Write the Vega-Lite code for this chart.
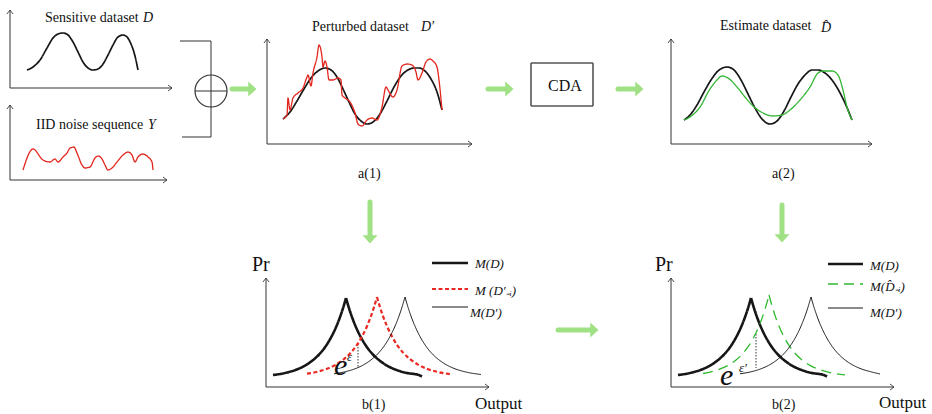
{
"$schema": "https://vega.github.io/schema/vega-lite/v6.json",
"width": 932, "height": 414,
"autosize": {"type": "fit", "contains": "padding"},
"padding": 0,
"background": "white",
"config": {"view": {"stroke": null}},
"datasets": {
"segs": [
{"g":"axis","x":10,"y":88,"x2":10,"y2":10},{"g":"axis","x":10,"y":88,"x2":172,"y2":88},
{"g":"axis","x":7,"y":14,"x2":10,"y2":10},{"g":"axis","x":13,"y":14,"x2":10,"y2":10},
{"g":"axis","x":168,"y":85,"x2":172,"y2":88},{"g":"axis","x":168,"y":91,"x2":172,"y2":88},
{"g":"axis","x":10,"y":180,"x2":10,"y2":105},{"g":"axis","x":10,"y":180,"x2":167,"y2":180},
{"g":"axis","x":7,"y":109,"x2":10,"y2":105},{"g":"axis","x":13,"y":109,"x2":10,"y2":105},
{"g":"axis","x":163,"y":177,"x2":167,"y2":180},{"g":"axis","x":163,"y":183,"x2":167,"y2":180},
{"g":"axis","x":180,"y":41,"x2":211,"y2":41},{"g":"axis","x":211,"y":41,"x2":211,"y2":137},
{"g":"axis","x":182,"y":137,"x2":211,"y2":137},{"g":"axis","x":195,"y":91,"x2":227,"y2":91},
{"g":"axis","x":267,"y":144,"x2":267,"y2":39},{"g":"axis","x":267,"y":144,"x2":472,"y2":144},
{"g":"axis","x":264,"y":43,"x2":267,"y2":39},{"g":"axis","x":270,"y":43,"x2":267,"y2":39},
{"g":"axis","x":468,"y":141,"x2":472,"y2":144},{"g":"axis","x":468,"y":147,"x2":472,"y2":144},
{"g":"axis","x":671,"y":144,"x2":671,"y2":39},{"g":"axis","x":671,"y":144,"x2":872,"y2":144},
{"g":"axis","x":668,"y":43,"x2":671,"y2":39},{"g":"axis","x":674,"y":43,"x2":671,"y2":39},
{"g":"axis","x":868,"y":141,"x2":872,"y2":144},{"g":"axis","x":868,"y":147,"x2":872,"y2":144},
{"g":"axis","x":266,"y":387,"x2":266,"y2":278},{"g":"axis","x":266,"y":387,"x2":489,"y2":387},
{"g":"axis","x":263,"y":282,"x2":266,"y2":278},{"g":"axis","x":269,"y":282,"x2":266,"y2":278},
{"g":"axis","x":485,"y":384,"x2":489,"y2":387},{"g":"axis","x":485,"y":390,"x2":489,"y2":387},
{"g":"axis","x":671,"y":387,"x2":671,"y2":278},{"g":"axis","x":671,"y":387,"x2":894,"y2":387},
{"g":"axis","x":668,"y":282,"x2":671,"y2":278},{"g":"axis","x":674,"y":282,"x2":671,"y2":278},
{"g":"axis","x":890,"y":384,"x2":894,"y2":387},{"g":"axis","x":890,"y":390,"x2":894,"y2":387},
{"g":"box","x":531,"y":63,"x2":593,"y2":63},{"g":"box","x":593,"y":63,"x2":593,"y2":106},
{"g":"box","x":593,"y":106,"x2":531,"y2":106},{"g":"box","x":531,"y":106,"x2":531,"y2":63},
{"g":"bold","x":432,"y":263,"x2":468,"y2":263},{"g":"reddash","x":432,"y":289,"x2":468,"y2":289},
{"g":"thin","x":432,"y":307,"x2":468,"y2":307},
{"g":"bold","x":828,"y":264,"x2":863,"y2":264},{"g":"greendash","x":828,"y":284,"x2":863,"y2":284},
{"g":"thin","x":828,"y":308,"x2":863,"y2":308},
{"g":"dot","x":358,"y":344,"x2":358,"y2":367},{"g":"dot","x":756,"y":334,"x2":756,"y2":368},
{"g":"arrow","x":232,"y":89,"x2":249,"y2":89},{"g":"arrow","x":488,"y":89,"x2":506,"y2":89},
{"g":"arrow","x":618,"y":89,"x2":636,"y2":89},{"g":"arrow","x":558,"y":330,"x2":591,"y2":330},
{"g":"arrow","x":370,"y":202,"x2":370,"y2":236},{"g":"arrow","x":782,"y":205,"x2":782,"y2":235}
],
"pts": [
{"g":"circle","x":211,"y":91},
{"g":"headR","x":249,"y":89},{"g":"headR","x":506,"y":89},{"g":"headR","x":636,"y":89},{"g":"headR","x":591,"y":330},
{"g":"headD","x":370,"y":236},{"g":"headD","x":782,"y":235}
],
"curves": [
{"id":"D","g":"curve","x":27,"y":70},{"id":"D","g":"curve","x":33,"y":67},{"id":"D","g":"curve","x":40,"y":60},{"id":"D","g":"curve","x":47,"y":48},{"id":"D","g":"curve","x":53,"y":38},{"id":"D","g":"curve","x":58,"y":34},{"id":"D","g":"curve","x":63,"y":33},{"id":"D","g":"curve","x":68,"y":35},{"id":"D","g":"curve","x":73,"y":42},{"id":"D","g":"curve","x":78,"y":52},{"id":"D","g":"curve","x":83,"y":62},{"id":"D","g":"curve","x":88,"y":68},{"id":"D","g":"curve","x":93,"y":70},{"id":"D","g":"curve","x":98,"y":69},{"id":"D","g":"curve","x":103,"y":64},{"id":"D","g":"curve","x":108,"y":55},{"id":"D","g":"curve","x":113,"y":45},{"id":"D","g":"curve","x":118,"y":37},{"id":"D","g":"curve","x":123,"y":35},{"id":"D","g":"curve","x":127,"y":37},{"id":"D","g":"curve","x":131,"y":44},{"id":"D","g":"curve","x":135,"y":56},{"id":"D","g":"curve","x":138,"y":70},
{"id":"Y","g":"red","x":23,"y":170},{"id":"Y","g":"red","x":33,"y":149},{"id":"Y","g":"red","x":43,"y":160},{"id":"Y","g":"red","x":50,"y":162},{"id":"Y","g":"red","x":55,"y":159},{"id":"Y","g":"red","x":58,"y":162},{"id":"Y","g":"red","x":63,"y":157},{"id":"Y","g":"red","x":67,"y":153},{"id":"Y","g":"red","x":70,"y":148},{"id":"Y","g":"red","x":74,"y":147},{"id":"Y","g":"red","x":77,"y":153},{"id":"Y","g":"red","x":82,"y":165},{"id":"Y","g":"red","x":85,"y":168},{"id":"Y","g":"red","x":90,"y":167},{"id":"Y","g":"red","x":95,"y":158},{"id":"Y","g":"red","x":98,"y":156},{"id":"Y","g":"red","x":102,"y":159},{"id":"Y","g":"red","x":105,"y":165},{"id":"Y","g":"red","x":108,"y":170},{"id":"Y","g":"red","x":112,"y":168},{"id":"Y","g":"red","x":117,"y":162},{"id":"Y","g":"red","x":123,"y":155},{"id":"Y","g":"red","x":128,"y":152},{"id":"Y","g":"red","x":132,"y":155},{"id":"Y","g":"red","x":135,"y":162},{"id":"Y","g":"red","x":138,"y":157},{"id":"Y","g":"red","x":143,"y":154},{"id":"Y","g":"red","x":148,"y":157},{"id":"Y","g":"red","x":152,"y":162},{"id":"Y","g":"red","x":153,"y":170},
{"id":"A1k","g":"curve","x":283,"y":119},{"id":"A1k","g":"curve","x":290,"y":112},{"id":"A1k","g":"curve","x":297,"y":101},{"id":"A1k","g":"curve","x":304,"y":89},{"id":"A1k","g":"curve","x":311,"y":78},{"id":"A1k","g":"curve","x":318,"y":71},{"id":"A1k","g":"curve","x":325,"y":68},{"id":"A1k","g":"curve","x":331,"y":70},{"id":"A1k","g":"curve","x":337,"y":77},{"id":"A1k","g":"curve","x":343,"y":89},{"id":"A1k","g":"curve","x":349,"y":102},{"id":"A1k","g":"curve","x":355,"y":114},{"id":"A1k","g":"curve","x":361,"y":121},{"id":"A1k","g":"curve","x":367,"y":124},{"id":"A1k","g":"curve","x":373,"y":122},{"id":"A1k","g":"curve","x":380,"y":114},{"id":"A1k","g":"curve","x":387,"y":101},{"id":"A1k","g":"curve","x":394,"y":87},{"id":"A1k","g":"curve","x":401,"y":76},{"id":"A1k","g":"curve","x":408,"y":70},{"id":"A1k","g":"curve","x":414,"y":68},{"id":"A1k","g":"curve","x":419,"y":68},{"id":"A1k","g":"curve","x":425,"y":71},{"id":"A1k","g":"curve","x":431,"y":79},{"id":"A1k","g":"curve","x":437,"y":92},{"id":"A1k","g":"curve","x":442,"y":110},
{"id":"A1r","g":"red","x":283,"y":119},{"id":"A1r","g":"red","x":287,"y":115},{"id":"A1r","g":"red","x":288,"y":98},{"id":"A1r","g":"red","x":290,"y":110},{"id":"A1r","g":"red","x":293,"y":98},{"id":"A1r","g":"red","x":298,"y":93},{"id":"A1r","g":"red","x":303,"y":88},{"id":"A1r","g":"red","x":307,"y":77},{"id":"A1r","g":"red","x":308,"y":75},{"id":"A1r","g":"red","x":311,"y":86},{"id":"A1r","g":"red","x":313,"y":73},{"id":"A1r","g":"red","x":317,"y":57},{"id":"A1r","g":"red","x":319,"y":45},{"id":"A1r","g":"red","x":322,"y":57},{"id":"A1r","g":"red","x":323,"y":67},{"id":"A1r","g":"red","x":325,"y":61},{"id":"A1r","g":"red","x":327,"y":67},{"id":"A1r","g":"red","x":329,"y":80},{"id":"A1r","g":"red","x":333,"y":80},{"id":"A1r","g":"red","x":338,"y":78},{"id":"A1r","g":"red","x":341,"y":80},{"id":"A1r","g":"red","x":342,"y":95},{"id":"A1r","g":"red","x":345,"y":98},{"id":"A1r","g":"red","x":350,"y":102},{"id":"A1r","g":"red","x":355,"y":113},{"id":"A1r","g":"red","x":358,"y":124},{"id":"A1r","g":"red","x":362,"y":126},{"id":"A1r","g":"red","x":367,"y":120},{"id":"A1r","g":"red","x":372,"y":118},{"id":"A1r","g":"red","x":377,"y":120},{"id":"A1r","g":"red","x":382,"y":107},{"id":"A1r","g":"red","x":386,"y":87},{"id":"A1r","g":"red","x":388,"y":90},{"id":"A1r","g":"red","x":393,"y":97},{"id":"A1r","g":"red","x":397,"y":90},{"id":"A1r","g":"red","x":402,"y":66},{"id":"A1r","g":"red","x":407,"y":64},{"id":"A1r","g":"red","x":412,"y":65},{"id":"A1r","g":"red","x":416,"y":72},{"id":"A1r","g":"red","x":418,"y":80},{"id":"A1r","g":"red","x":422,"y":73},{"id":"A1r","g":"red","x":426,"y":62},{"id":"A1r","g":"red","x":430,"y":59},{"id":"A1r","g":"red","x":433,"y":61},{"id":"A1r","g":"red","x":437,"y":67},{"id":"A1r","g":"red","x":439,"y":80},{"id":"A1r","g":"red","x":442,"y":110},
{"id":"A2k","g":"curve","x":684,"y":120},{"id":"A2k","g":"curve","x":690,"y":115},{"id":"A2k","g":"curve","x":697,"y":105},{"id":"A2k","g":"curve","x":704,"y":92},{"id":"A2k","g":"curve","x":711,"y":80},{"id":"A2k","g":"curve","x":718,"y":71},{"id":"A2k","g":"curve","x":727,"y":67},{"id":"A2k","g":"curve","x":734,"y":70},{"id":"A2k","g":"curve","x":741,"y":80},{"id":"A2k","g":"curve","x":748,"y":94},{"id":"A2k","g":"curve","x":755,"y":108},{"id":"A2k","g":"curve","x":762,"y":119},{"id":"A2k","g":"curve","x":770,"y":124},{"id":"A2k","g":"curve","x":777,"y":121},{"id":"A2k","g":"curve","x":784,"y":111},{"id":"A2k","g":"curve","x":791,"y":97},{"id":"A2k","g":"curve","x":798,"y":84},{"id":"A2k","g":"curve","x":805,"y":75},{"id":"A2k","g":"curve","x":812,"y":70},{"id":"A2k","g":"curve","x":818,"y":70},{"id":"A2k","g":"curve","x":825,"y":73},{"id":"A2k","g":"curve","x":832,"y":80},{"id":"A2k","g":"curve","x":839,"y":91},{"id":"A2k","g":"curve","x":845,"y":103},{"id":"A2k","g":"curve","x":852,"y":120},
{"id":"A2g","g":"green","x":684,"y":120},{"id":"A2g","g":"green","x":690,"y":117},{"id":"A2g","g":"green","x":700,"y":107},{"id":"A2g","g":"green","x":710,"y":89},{"id":"A2g","g":"green","x":717,"y":80},{"id":"A2g","g":"green","x":722,"y":76},{"id":"A2g","g":"green","x":728,"y":78},{"id":"A2g","g":"green","x":737,"y":87},{"id":"A2g","g":"green","x":745,"y":97},{"id":"A2g","g":"green","x":753,"y":106},{"id":"A2g","g":"green","x":763,"y":113},{"id":"A2g","g":"green","x":773,"y":116},{"id":"A2g","g":"green","x":782,"y":115},{"id":"A2g","g":"green","x":790,"y":110},{"id":"A2g","g":"green","x":800,"y":100},{"id":"A2g","g":"green","x":810,"y":87},{"id":"A2g","g":"green","x":818,"y":73},{"id":"A2g","g":"green","x":823,"y":71},{"id":"A2g","g":"green","x":832,"y":71},{"id":"A2g","g":"green","x":838,"y":75},{"id":"A2g","g":"green","x":843,"y":90},{"id":"A2g","g":"green","x":847,"y":107},{"id":"A2g","g":"green","x":852,"y":120},
{"id":"B1kL","g":"bold","x":273,"y":375},{"id":"B1kL","g":"bold","x":286,"y":372.8},{"id":"B1kL","g":"bold","x":296,"y":369.8},{"id":"B1kL","g":"bold","x":305,"y":365.6},{"id":"B1kL","g":"bold","x":313,"y":360.1},{"id":"B1kL","g":"bold","x":320,"y":353.5},{"id":"B1kL","g":"bold","x":326,"y":345.8},{"id":"B1kL","g":"bold","x":331,"y":337.5},{"id":"B1kL","g":"bold","x":336,"y":327.2},{"id":"B1kL","g":"bold","x":340,"y":317.1},{"id":"B1kL","g":"bold","x":343,"y":308.2},{"id":"B1kL","g":"bold","x":346,"y":298},
{"id":"B1kR","g":"bold","x":346,"y":298},{"id":"B1kR","g":"bold","x":349,"y":308.2},{"id":"B1kR","g":"bold","x":352,"y":317.1},{"id":"B1kR","g":"bold","x":356,"y":327.2},{"id":"B1kR","g":"bold","x":361,"y":337.5},{"id":"B1kR","g":"bold","x":366,"y":345.8},{"id":"B1kR","g":"bold","x":372,"y":353.5},{"id":"B1kR","g":"bold","x":379,"y":360.1},{"id":"B1kR","g":"bold","x":387,"y":365.6},{"id":"B1kR","g":"bold","x":396,"y":369.8},{"id":"B1kR","g":"bold","x":406,"y":372.8},{"id":"B1kR","g":"bold","x":419,"y":375.1},{"id":"B1kR","g":"bold","x":422,"y":376.5},
{"id":"B1rL","g":"reddash","x":307,"y":373.7},{"id":"B1rL","g":"reddash","x":317,"y":371.8},{"id":"B1rL","g":"reddash","x":327,"y":368.8},{"id":"B1rL","g":"reddash","x":336,"y":364.6},{"id":"B1rL","g":"reddash","x":344,"y":359.1},{"id":"B1rL","g":"reddash","x":351,"y":352.5},{"id":"B1rL","g":"reddash","x":357,"y":344.8},{"id":"B1rL","g":"reddash","x":362,"y":336.5},{"id":"B1rL","g":"reddash","x":367,"y":326.2},{"id":"B1rL","g":"reddash","x":371,"y":316.1},{"id":"B1rL","g":"reddash","x":374,"y":307.2},{"id":"B1rL","g":"reddash","x":377,"y":297},
{"id":"B1rR","g":"reddash","x":377,"y":297},{"id":"B1rR","g":"reddash","x":380,"y":307.2},{"id":"B1rR","g":"reddash","x":383,"y":316.1},{"id":"B1rR","g":"reddash","x":387,"y":326.2},{"id":"B1rR","g":"reddash","x":392,"y":336.5},{"id":"B1rR","g":"reddash","x":397,"y":344.8},{"id":"B1rR","g":"reddash","x":403,"y":352.5},{"id":"B1rR","g":"reddash","x":410,"y":359.1},{"id":"B1rR","g":"reddash","x":418,"y":364.6},{"id":"B1rR","g":"reddash","x":427,"y":368.8},{"id":"B1rR","g":"reddash","x":437,"y":371.8},{"id":"B1rR","g":"reddash","x":450,"y":374.1},
{"id":"B1tL","g":"thin","x":334,"y":373.8},{"id":"B1tL","g":"thin","x":345,"y":371.8},{"id":"B1tL","g":"thin","x":355,"y":368.8},{"id":"B1tL","g":"thin","x":364,"y":364.6},{"id":"B1tL","g":"thin","x":372,"y":359.1},{"id":"B1tL","g":"thin","x":379,"y":352.5},{"id":"B1tL","g":"thin","x":385,"y":344.8},{"id":"B1tL","g":"thin","x":390,"y":336.5},{"id":"B1tL","g":"thin","x":395,"y":326.2},{"id":"B1tL","g":"thin","x":399,"y":316.1},{"id":"B1tL","g":"thin","x":402,"y":307.2},{"id":"B1tL","g":"thin","x":405,"y":297},
{"id":"B1tR","g":"thin","x":405,"y":297},{"id":"B1tR","g":"thin","x":408,"y":307.2},{"id":"B1tR","g":"thin","x":411,"y":316.1},{"id":"B1tR","g":"thin","x":415,"y":326.2},{"id":"B1tR","g":"thin","x":420,"y":336.5},{"id":"B1tR","g":"thin","x":425,"y":344.8},{"id":"B1tR","g":"thin","x":431,"y":352.5},{"id":"B1tR","g":"thin","x":438,"y":359.1},{"id":"B1tR","g":"thin","x":446,"y":364.6},{"id":"B1tR","g":"thin","x":455,"y":368.8},{"id":"B1tR","g":"thin","x":465,"y":371.8},{"id":"B1tR","g":"thin","x":481,"y":374.5},
{"id":"B2kL","g":"bold","x":678,"y":375},{"id":"B2kL","g":"bold","x":691,"y":372.8},{"id":"B2kL","g":"bold","x":701,"y":369.8},{"id":"B2kL","g":"bold","x":710,"y":365.6},{"id":"B2kL","g":"bold","x":718,"y":360.1},{"id":"B2kL","g":"bold","x":725,"y":353.5},{"id":"B2kL","g":"bold","x":731,"y":345.8},{"id":"B2kL","g":"bold","x":736,"y":337.5},{"id":"B2kL","g":"bold","x":741,"y":327.2},{"id":"B2kL","g":"bold","x":745,"y":317.1},{"id":"B2kL","g":"bold","x":748,"y":308.2},{"id":"B2kL","g":"bold","x":751,"y":298},
{"id":"B2kR","g":"bold","x":751,"y":298},{"id":"B2kR","g":"bold","x":754,"y":308.2},{"id":"B2kR","g":"bold","x":757,"y":317.1},{"id":"B2kR","g":"bold","x":761,"y":327.2},{"id":"B2kR","g":"bold","x":766,"y":337.5},{"id":"B2kR","g":"bold","x":771,"y":345.8},{"id":"B2kR","g":"bold","x":777,"y":353.5},{"id":"B2kR","g":"bold","x":784,"y":360.1},{"id":"B2kR","g":"bold","x":792,"y":365.6},{"id":"B2kR","g":"bold","x":801,"y":369.8},{"id":"B2kR","g":"bold","x":811,"y":372.8},{"id":"B2kR","g":"bold","x":824,"y":375.1},{"id":"B2kR","g":"bold","x":827,"y":376.5},
{"id":"B2gL","g":"greendash","x":703,"y":373.5},{"id":"B2gL","g":"greendash","x":709,"y":372.3},{"id":"B2gL","g":"greendash","x":719,"y":369.4},{"id":"B2gL","g":"greendash","x":728,"y":365.4},{"id":"B2gL","g":"greendash","x":736,"y":360},{"id":"B2gL","g":"greendash","x":743,"y":353.2},{"id":"B2gL","g":"greendash","x":749,"y":345.4},{"id":"B2gL","g":"greendash","x":754,"y":336.8},{"id":"B2gL","g":"greendash","x":759,"y":326.1},{"id":"B2gL","g":"greendash","x":763,"y":315.4},{"id":"B2gL","g":"greendash","x":766,"y":305.9},{"id":"B2gL","g":"greendash","x":769,"y":295},
{"id":"B2gR","g":"greendash","x":769,"y":295},{"id":"B2gR","g":"greendash","x":772,"y":305.9},{"id":"B2gR","g":"greendash","x":775,"y":315.4},{"id":"B2gR","g":"greendash","x":779,"y":326.1},{"id":"B2gR","g":"greendash","x":784,"y":336.8},{"id":"B2gR","g":"greendash","x":789,"y":345.4},{"id":"B2gR","g":"greendash","x":795,"y":353.2},{"id":"B2gR","g":"greendash","x":802,"y":360},{"id":"B2gR","g":"greendash","x":810,"y":365.4},{"id":"B2gR","g":"greendash","x":819,"y":369.4},{"id":"B2gR","g":"greendash","x":829,"y":372.3},{"id":"B2gR","g":"greendash","x":845,"y":374.8},
{"id":"B2tL","g":"thin","x":740,"y":373.8},{"id":"B2tL","g":"thin","x":751,"y":371.8},{"id":"B2tL","g":"thin","x":761,"y":368.8},{"id":"B2tL","g":"thin","x":770,"y":364.6},{"id":"B2tL","g":"thin","x":778,"y":359.1},{"id":"B2tL","g":"thin","x":785,"y":352.5},{"id":"B2tL","g":"thin","x":791,"y":344.8},{"id":"B2tL","g":"thin","x":796,"y":336.5},{"id":"B2tL","g":"thin","x":801,"y":326.2},{"id":"B2tL","g":"thin","x":805,"y":316.1},{"id":"B2tL","g":"thin","x":808,"y":307.2},{"id":"B2tL","g":"thin","x":811,"y":297},
{"id":"B2tR","g":"thin","x":811,"y":297},{"id":"B2tR","g":"thin","x":814,"y":307.2},{"id":"B2tR","g":"thin","x":817,"y":316.1},{"id":"B2tR","g":"thin","x":821,"y":326.2},{"id":"B2tR","g":"thin","x":826,"y":336.5},{"id":"B2tR","g":"thin","x":831,"y":344.8},{"id":"B2tR","g":"thin","x":837,"y":352.5},{"id":"B2tR","g":"thin","x":844,"y":359.1},{"id":"B2tR","g":"thin","x":852,"y":364.6},{"id":"B2tR","g":"thin","x":861,"y":368.8},{"id":"B2tR","g":"thin","x":871,"y":371.8},{"id":"B2tR","g":"thin","x":880,"y":374}
],
"labels": [
{"t":"Sensitive dataset","g":"title","x":45,"y":22},
{"t":"IID noise sequence","g":"title","x":36,"y":129},
{"t":"Perturbed dataset","g":"title","x":312,"y":31},
{"t":"Estimate dataset","g":"title","x":720,"y":30},
{"t":"a(1)","g":"cap","x":358,"y":178},
{"t":"a(2)","g":"cap","x":772,"y":178},
{"t":"b(1)","g":"cap","x":362,"y":409},
{"t":"b(2)","g":"cap","x":772,"y":409},
{"t":"CDA","g":"cda","x":548,"y":91},
{"t":"Pr","g":"pr","x":252,"y":271},
{"t":"Pr","g":"pr","x":655,"y":271},
{"t":"Output","g":"out","x":475,"y":409},
{"t":"Output","g":"out","x":879,"y":408}
],
"ilabels": [
{"t":"D","g":"titleI","x":143,"y":22},
{"t":"Y","g":"titleI","x":148,"y":129},
{"t":"D′","g":"titleI","x":421,"y":31},
{"t":"D̂","g":"titleI","x":821,"y":32},
{"t":"M(D)","g":"leg","x":475,"y":268},
{"t":"M (D′₋ᵢ)","g":"leg","x":475,"y":295},
{"t":"M(D′)","g":"leg","x":470,"y":317},
{"t":"M(D)","g":"leg","x":870,"y":270},
{"t":"M(D̂₋ᵢ)","g":"leg","x":870,"y":291},
{"t":"M(D′)","g":"leg","x":870,"y":317},
{"t":"e","g":"e","x":334,"y":375},
{"t":"ε","g":"sup","x":347,"y":361},
{"t":"e","g":"e","x":720,"y":385},
{"t":"ε′","g":"sup","x":739,"y":372}
]
},
"encoding": {
"x": {"field":"x","type":"quantitative","scale":{"domain":[0,932],"nice":false,"zero":false},"axis":null},
"y": {"field":"y","type":"quantitative","scale":{"domain":[0,414],"nice":false,"zero":false,"reverse":true},"axis":null}
},
"layer": [
{"data":{"name":"segs"},"transform":[{"filter":"datum.g !== 'arrow'"}],
 "mark":{"type":"rule"},
 "encoding":{"x2":{"field":"x2"},"y2":{"field":"y2"},
  "color":{"condition":[{"test":"datum.g==='reddash'","value":"#ea2a22"},{"test":"datum.g==='greendash'","value":"#2fb82f"},{"test":"datum.g==='box'","value":"#555555"},{"test":"datum.g==='axis' || datum.g==='dot'","value":"#333333"}],"value":"#161616"},
  "strokeWidth":{"condition":[{"test":"datum.g==='bold'","value":2.6},{"test":"datum.g==='reddash'","value":2.2},{"test":"datum.g==='box'","value":1.6},{"test":"datum.g==='greendash'","value":1.4}],"value":1},
  "strokeDash":{"condition":[{"test":"datum.g==='reddash'","value":[4,2.5]},{"test":"datum.g==='greendash'","value":[10,6]},{"test":"datum.g==='dot'","value":[1.5,1.5]}],"value":[1,0]}
 }},
{"data":{"name":"segs"},"transform":[{"filter":"datum.g === 'arrow'"}],
 "mark":{"type":"rule","strokeCap":"round","color":"#9fe184","strokeWidth":5},
 "encoding":{"x2":{"field":"x2"},"y2":{"field":"y2"}}},
{"data":{"name":"curves"},
 "mark":{"type":"line","interpolate":"monotone"},
 "encoding":{"detail":{"field":"id"},
  "color":{"condition":[{"test":"datum.g==='red'","value":"#e3261d"},{"test":"datum.g==='reddash'","value":"#ea2a22"},{"test":"datum.g==='green'","value":"#34b534"},{"test":"datum.g==='greendash'","value":"#2fb82f"}],"value":"#161616"},
  "strokeWidth":{"condition":[{"test":"datum.g==='bold'","value":2.6},{"test":"datum.g==='curve'","value":1.7},{"test":"datum.g==='reddash'","value":2.2},{"test":"datum.g==='red' || datum.g==='green' || datum.g==='greendash'","value":1.3}],"value":1},
  "strokeDash":{"condition":[{"test":"datum.g==='reddash'","value":[4,2.5]},{"test":"datum.g==='greendash'","value":[10,6]}],"value":[1,0]}
 }},
{"data":{"name":"pts"},"transform":[{"filter":"datum.g === 'circle'"}],
 "mark":{"type":"point","shape":"circle","size":1024,"filled":false,"stroke":"#333333","strokeWidth":1.2,"opacity":1}},
{"data":{"name":"pts"},"transform":[{"filter":"datum.g === 'headR'"}],
 "mark":{"type":"point","shape":"M1,0L-0.1,-1L-0.1,1Z","size":225,"filled":true,"color":"#9fe184","opacity":1}},
{"data":{"name":"pts"},"transform":[{"filter":"datum.g === 'headD'"}],
 "mark":{"type":"point","shape":"M0,1L-1,-0.1L1,-0.1Z","size":225,"filled":true,"color":"#9fe184","opacity":1}},
{"data":{"name":"labels"},
 "mark":{"type":"text","align":"left","baseline":"alphabetic","font":"Liberation Serif","color":"#111111"},
 "encoding":{"text":{"field":"t"},
  "size":{"condition":[{"test":"datum.g==='cda'","value":16},{"test":"datum.g==='pr'","value":20},{"test":"datum.g==='out'","value":17}],"value":14}}},
{"data":{"name":"ilabels"},
 "mark":{"type":"text","align":"left","baseline":"alphabetic","font":"Liberation Serif","fontStyle":"italic","color":"#111111"},
 "encoding":{"text":{"field":"t"},
  "size":{"condition":[{"test":"datum.g==='leg'","value":13},{"test":"datum.g==='e'","value":30},{"test":"datum.g==='sup'","value":13}],"value":14}}}
]
}
